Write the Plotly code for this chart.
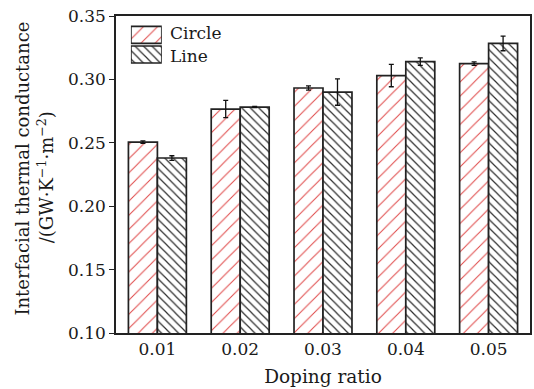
import plotly.graph_objects as go

# Doping ratios on the category axis
doping = ["0.01", "0.02", "0.03", "0.04", "0.05"]

# Interfacial thermal conductance (GW·K^-1·m^-2) and error
circle_vals = [0.2505, 0.2766, 0.2932, 0.3030, 0.3124]
circle_err = [0.0010, 0.0068, 0.0017, 0.0088, 0.0014]
line_vals = [0.2380, 0.2782, 0.2900, 0.3140, 0.3284]
line_err = [0.0018, 0.0005, 0.0104, 0.0030, 0.0058]

series_names = ["Circle", "Line"]
hatch_shapes = ["/", "\\"]
hatch_colors = ["#e04a4a", "#2e2e2e"]
hatch_sizes = [10, 6]
hatch_solidity = [0.1, 0.2]

FONT = "DejaVu Serif"
TXT = "#1a1a1a"
EDGE = "#222222"

fig = go.Figure()

for name, vals, errs, shp, col, sz, sol in zip(
    series_names, [circle_vals, line_vals], [circle_err, line_err],
    hatch_shapes, hatch_colors, hatch_sizes, hatch_solidity,
):
    fig.add_trace(go.Bar(
        x=doping, y=vals, name=name,
        marker=dict(
            color="white",
            line=dict(color=EDGE, width=1.7),
            pattern=dict(shape=shp, fgcolor=col, bgcolor="white", fgopacity=1,
                         size=sz, solidity=sol, fillmode="overlay"),
        ),
        error_y=dict(type="data", array=errs, visible=True,
                     color="#111111", thickness=1.3, width=2.5),
        showlegend=False,
    ))

# Legend swatches: one patterned bar per series on a small inset axis
fig.add_trace(go.Bar(
    x=[1, 1], y=[1, 0], base=[0, 0], orientation="h", width=0.865,
    xaxis="x2", yaxis="y2",
    marker=dict(
        color="white",
        line=dict(color=EDGE, width=1.7),
        pattern=dict(shape=hatch_shapes, fgcolor=hatch_colors, bgcolor="white",
                     fgopacity=1, size=hatch_sizes, solidity=hatch_solidity,
                     fillmode="overlay"),
    ),
    showlegend=False, hoverinfo="skip",
))

legend_y = [0.945, 0.875]
annotations = [
    dict(xref="paper", yref="paper", x=0.125, y=yy, text=n, showarrow=False,
         xanchor="left", yanchor="middle",
         font=dict(family=FONT, size=17, color=TXT))
    for n, yy in zip(series_names, legend_y)
]
annotations += [
    dict(xref="paper", yref="paper", x=-0.226, y=0.52, xanchor="center", yanchor="middle",
         text="Interfacial thermal conductance", textangle=-90, showarrow=False,
         font=dict(family=FONT, size=18, color=TXT)),
    dict(xref="paper", yref="paper", x=-0.17, y=0.49, xanchor="center", yanchor="middle",
         text="/(GW·K<sup>−1</sup>·m<sup>−2</sup>)", textangle=-90, showarrow=False,
         font=dict(family=FONT, size=18, color=TXT)),
]

fig.update_layout(
    width=534, height=389,
    margin=dict(l=116, r=2, t=16, b=56),
    paper_bgcolor="white", plot_bgcolor="white",
    barmode="group", bargap=0.3, bargroupgap=0.0,
    font=dict(family=FONT, size=17, color=TXT),
    xaxis=dict(
        range=[-0.5, 4.5], showline=True, linecolor=EDGE, linewidth=1.5,
        mirror=True, ticks="", showgrid=False, zeroline=False,
        tickfont=dict(family=FONT, size=17, color=TXT),
        title=dict(text="Doping ratio", standoff=12,
                   font=dict(family=FONT, size=18.5, color=TXT)),
    ),
    yaxis=dict(
        range=[0.10, 0.35], dtick=0.05, tickformat=".2f",
        showline=True, linecolor=EDGE, linewidth=1.5, mirror=True,
        ticks="outside", ticklen=5, tickwidth=1.3, tickcolor=EDGE,
        showgrid=False, zeroline=False,
        tickfont=dict(family=FONT, size=17, color=TXT),
    ),
    xaxis2=dict(domain=[0.036, 0.1106], range=[0, 1], anchor="y2",
                visible=False, fixedrange=True),
    yaxis2=dict(domain=[0.8476, 0.9716], range=[-0.5, 1.5], anchor="x2",
                visible=False, fixedrange=True),
    annotations=annotations,
)

fig.write_html("out.html")
